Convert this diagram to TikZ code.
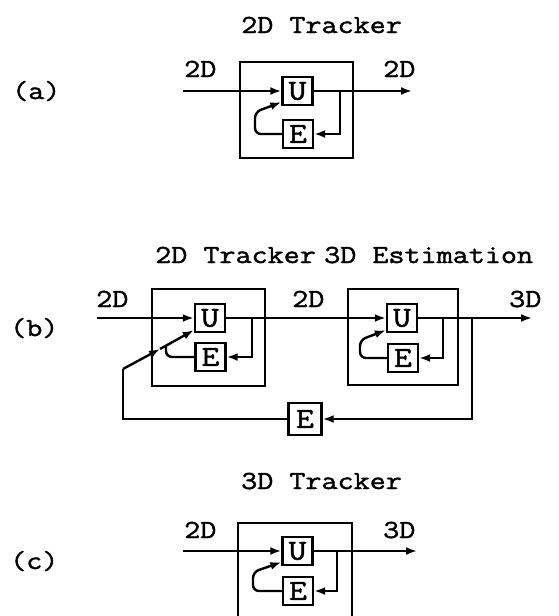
\documentclass[tikz,border=0pt]{standalone}
\usepackage{fontspec}
\setmainfont{Latin Modern Mono}[FakeStretch=1.2, FakeBold=1.5]
\usetikzlibrary{arrows.meta}
\tikzset{
  frame/.style 2 args={draw, inner sep=0pt, minimum width=#1, minimum height=#2},
  ubox/.style={draw, inner sep=0pt, minimum width=30pt, minimum height=28pt, font=\fontsize{29}{29}\selectfont},
  arr/.style={-{Latex[length=11pt,width=8pt]}},
  lbl/.style={anchor=base west, inner sep=0pt, font=\fontsize{26}{30}\selectfont},
}
\begin{document}
\begin{tikzpicture}[x=1pt,y=-1pt,line width=2.4pt]
\useasboundingbox (0,0) rectangle (559,616);
% ---------- (a)
\node[lbl] (ta) at (240,33) {2D Tracker};
\node[lbl] (la) at (11,99) {(a)};
\node[lbl] (ia) at (183,77) {2D};
\node[lbl] (oa) at (382,77) {2D};
\node[frame={113pt}{96pt}] (FA) at (296.5,110) {};
\node[ubox] (UA) at (297.5,91) {U};
\node[ubox] (EA) at (298,134) {E};
\coordinate (inA) at (183,91);
\coordinate (outA) at (412,91);
\coordinate (brA) at (340,91);
\coordinate (lpA) at (255,112);
\draw[arr] (inA) -- (UA.west);
\draw[arr] (UA.east) -- (outA);
\draw[arr] (brA) |- (EA.east);
\draw[arr, rounded corners=6pt] (EA.west) -| (lpA) -- ([yshift=4pt]UA.south west);
% ---------- (b)
\node[lbl] (tb1) at (154,263) {2D Tracker};
\node[lbl] (tb2) at (323,263) {3D Estimation};
\node[lbl] (lb) at (9,336) {(b)};
\node[lbl] (ib) at (95,307) {2D};
\node[lbl] (mb) at (291,307) {2D};
\node[lbl] (ob) at (508,307) {3D};
\node[frame={113pt}{97pt}] (FB1) at (208.5,337.5) {};
\node[ubox] (UB1) at (210,318) {U};
\node[ubox] (EB1) at (210.5,357) {E};
\node[frame={110pt}{96pt}] (FB2) at (403,337) {};
\node[ubox] (UB2) at (402,318) {U};
\node[ubox] (EB2) at (403,358) {E};
\node[ubox, minimum width=33pt, minimum height=32pt] (EB3) at (305,419) {E};
\coordinate (inB) at (97,318);
\coordinate (brB1) at (252,318);
\coordinate (lpB1) at (166,346);
\coordinate (lpB0) at (123,369);
\coordinate (midB) at (160,349);
\coordinate (brB2) at (443,318);
\coordinate (lpB2) at (360,340);
\coordinate (brB3) at (472,318);
\coordinate (outB) at (532,318);
\draw[arr] (inB) -- (UB1.west);
\draw[arr] (UB1.east) -- (UB2.west);
\draw[arr] (brB1) |- (EB1.east);
\draw[rounded corners=6pt] (EB1.west) -| (lpB1);
\draw (EB3.west) -| (lpB0);
\draw[arr] (lpB0) -- (midB);
\draw[arr] (midB) -- ([yshift=3pt]UB1.south west);
\draw[arr] (UB2.east) -- (outB);
\draw[arr] (brB2) |- (EB2.east);
\draw[arr, rounded corners=6pt] (EB2.west) -| (lpB2) -- ([yshift=3pt]UB2.south west);
\draw[arr] (brB3) |- (EB3.east);
% ---------- (c)
\node[lbl] (tc) at (240,489) {3D Tracker};
\node[lbl] (lc) at (9,569) {(c)};
\node[lbl] (ic) at (183,538) {2D};
\node[lbl] (oc) at (382,538) {3D};
\node[frame={114pt}{100pt}] (FC) at (295,573) {};
\node[ubox] (UC) at (297.5,551) {U};
\node[ubox] (EC) at (298,591) {E};
\coordinate (inC) at (183,551);
\coordinate (outC) at (417,551);
\coordinate (brC) at (337,551);
\coordinate (lpC) at (253,572);
\draw[arr] (inC) -- (UC.west);
\draw[arr] (UC.east) -- (outC);
\draw[arr] (brC) |- (EC.east);
\draw[arr, rounded corners=6pt] (EC.west) -| (lpC) -- ([yshift=4pt]UC.south west);
\end{tikzpicture}
\end{document}
